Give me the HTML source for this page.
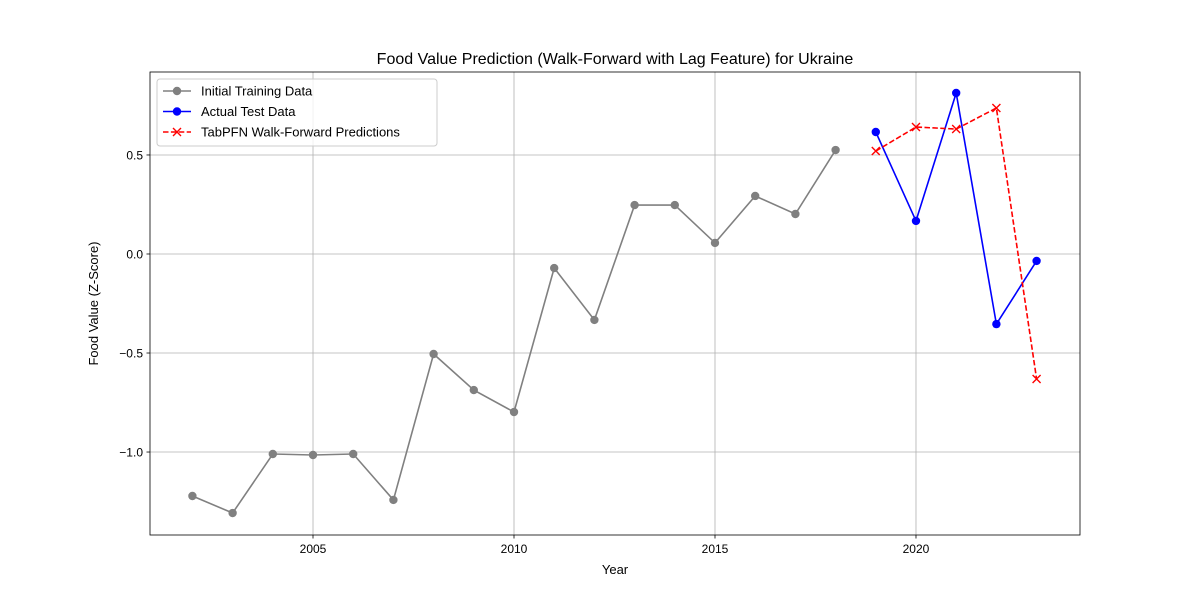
<!DOCTYPE html>
<html><head><meta charset="utf-8"><style>
body{margin:0;background:#fff;font-family:"Liberation Sans","DejaVu Sans",sans-serif}
</style></head><body>
<svg id="chart" width="1200" height="600" xmlns="http://www.w3.org/2000/svg" font-family="Liberation Sans, DejaVu Sans, sans-serif"></svg>
<script>
const trainYears=[2002,2003,2004,2005,2006,2007,2008,2009,2010,2011,2012,2013,2014,2015,2016,2017,2018];
const trainValues=[-1.222,-1.308,-1.01,-1.015,-1.01,-1.242,-0.505,-0.687,-0.798,-0.071,-0.333,0.247,0.247,0.056,0.293,0.202,0.525];
const testYears=[2019,2020,2021,2022,2023];
const testValues=[0.616,0.167,0.813,-0.354,-0.035];
const predValues=[0.52,0.641,0.631,0.737,-0.631];
const xTicks=[2005,2010,2015,2020];
const yTicks=[-1.0,-0.5,0.0,0.5];
const yTickLabels=["\u22121.0","\u22120.5","0.0","0.5"];

const L=150,R=1080,T=72,B=535;
const x0=2000.945,x1=2024.08,y0=-1.419,y1=0.919;
const sx=v=>L+(v-x0)/(x1-x0)*(R-L);
const sy=v=>B-(v-y0)/(y1-y0)*(B-T);
const svg=document.getElementById('chart');
const NS="http://www.w3.org/2000/svg";
function mk(tag,attrs,parent){const e=document.createElementNS(NS,tag);for(const k in attrs)e.setAttribute(k,attrs[k]);(parent||svg).appendChild(e);return e;}

const grid=mk('g',{});


xTicks.forEach(t=>{mk('line',{x1:sx(t),x2:sx(t),y1:T,y2:B,stroke:'#b0b0b0','stroke-width':0.8},grid);
 mk('line',{x1:sx(t),x2:sx(t),y1:B,y2:B+3.5,stroke:'#000','stroke-width':0.8});
 const tx=mk('text',{x:sx(t),y:B+18,'font-size':12,'text-anchor':'middle'});tx.textContent=t;
 
 });
yTicks.forEach((t,i)=>{mk('line',{x1:L,x2:R,y1:sy(t),y2:sy(t),stroke:'#b0b0b0','stroke-width':0.8},grid);
 mk('line',{x1:L-3.5,x2:L,y1:sy(t),y2:sy(t),stroke:'#000','stroke-width':0.8});
 const tx=mk('text',{x:L-7,y:sy(t)+4.5,'font-size':12,'text-anchor':'end'});tx.textContent=yTickLabels[i];
 
 });

function series(xs,ys,color,dash,marker,name){
 const g=mk('g',{});
 
 
 mk('polyline',{points:xs.map((x,i)=>sx(x)+','+sy(ys[i])).join(' '),fill:'none',stroke:color,'stroke-width':1.6,'stroke-dasharray':dash||'none'},g);
 xs.forEach((x,i)=>{const cx=sx(x),cy=sy(ys[i]);
  if(marker==='o'){const c=mk('circle',{cx:cx,cy:cy,r:4.2,fill:color},g);}
  else{const p=mk('path',{d:`M${cx-4},${cy-4}L${cx+4},${cy+4}M${cx-4},${cy+4}L${cx+4},${cy-4}`,stroke:color,'stroke-width':1.4},g);}});
}
series(trainYears,trainValues,'#808080',null,'o','training-series');
series(testYears,testValues,'#0000ff',null,'o','test-series');
series(testYears,predValues,'#ff0000','5.5,2.4','x','prediction-series');

const frame=mk('rect',{x:L,y:T,width:R-L,height:B-T,fill:'none',stroke:'#000','stroke-width':0.8});


const title=mk('text',{x:(L+R)/2,y:64,'font-size':16,'text-anchor':'middle'});title.textContent='Food Value Prediction (Walk-Forward with Lag Feature) for Ukraine';

const xt=mk('text',{x:(L+R)/2,y:574,'font-size':13,'text-anchor':'middle'});xt.textContent='Year';

const yt=mk('text',{x:0,y:0,'font-size':13,'text-anchor':'middle',transform:`translate(98,${(T+B)/2}) rotate(-90)`});yt.textContent='Food Value (Z-Score)';


const lg=mk('g',{});

mk('rect',{x:157,y:79,width:280,height:67,rx:3,fill:'#fff','fill-opacity':0.8,stroke:'#ccc'},lg);
const entries=[['Initial Training Data','#808080','o',null],['Actual Test Data','#0000ff','o',null],['TabPFN Walk-Forward Predictions','#ff0000','x','5.5,2.4']];
entries.forEach((e,i)=>{const y=91+i*20.5;const g=mk('g',{},lg);
 
 mk('line',{x1:163,x2:191,y1:y,y2:y,stroke:e[1],'stroke-width':1.6,'stroke-dasharray':e[3]||'none'},g);
 if(e[2]==='o')mk('circle',{cx:177,cy:y,r:4.2,fill:e[1]},g);
 else mk('path',{d:`M173,${y-4}L181,${y+4}M173,${y+4}L181,${y-4}`,stroke:e[1],'stroke-width':1.4},g);
 const t=mk('text',{x:201,y:y+4.5,'font-size':13},g);t.textContent=e[0];});
</script>
</body></html>
